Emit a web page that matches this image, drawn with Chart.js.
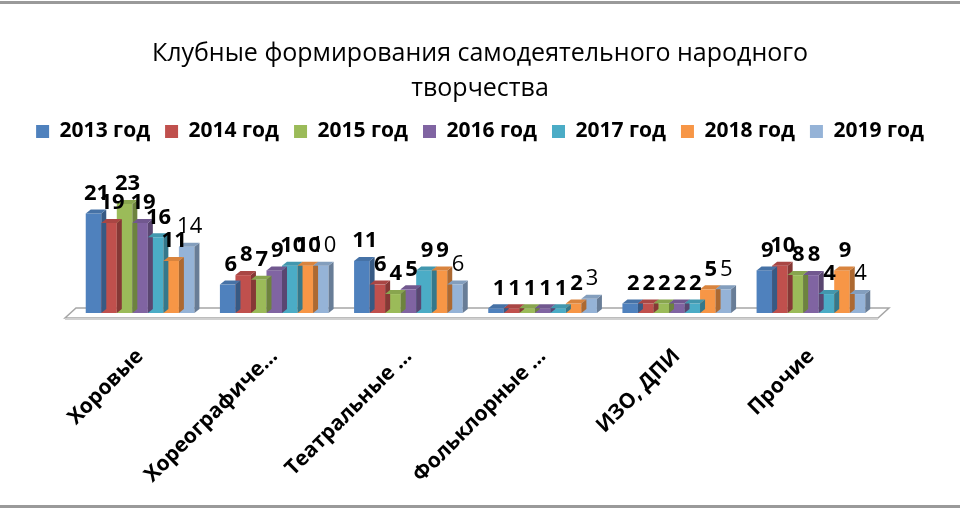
<!DOCTYPE html>
<html>
<head>
<meta charset="utf-8">
<script src="https://cdn.jsdelivr.net/npm/chart.js@4/dist/chart.umd.min.js"></script>
<style>
  html, body { margin:0; padding:0; background:#fff; }
  #wrap { position:relative; width:960px; height:510px; }
</style>
</head>
<body>
<div id="wrap"><canvas id="chart" width="960" height="510"></canvas></div>
<script>
// categories (Excel truncated the long ones)
var categories = ['Хоровые', 'Хореографиче...', 'Театральные ...', 'Фольклорные ...', 'ИЗО, ДПИ', 'Прочие'];
var years = ['2013 год', '2014 год', '2015 год', '2016 год', '2017 год', '2018 год', '2019 год'];
var colors = ['#4F81BD', '#C0504D', '#9BBB59', '#8064A2', '#4BACC6', '#F79646', '#95B3D7'];

var v2013 = [21, 6, 11, 1, 2, 9];
var v2014 = [19, 8, 6, 1, 2, 10];
var v2015 = [23, 7, 4, 1, 2, 8];
var v2016 = [19, 9, 5, 1, 2, 8];
var v2017 = [16, 10, 9, 1, 2, 4];
var v2018 = [11, 10, 9, 2, 5, 9];
var v2019 = [14, 10, 6, 3, 5, 4];
var series = [v2013, v2014, v2015, v2016, v2017, v2018, v2019];

var yMax = 34;

function shade(hex, f) {
  var n = parseInt(hex.slice(1), 16);
  var r = (n >> 16) & 255, g = (n >> 8) & 255, b = n & 255;
  function c(x){ return Math.max(0, Math.min(255, Math.round(f < 0 ? x*(1+f) : x + (255-x)*f))); }
  return 'rgb(' + c(r) + ',' + c(g) + ',' + c(b) + ')';
}

// frame lines + 3D floor
var floorPlugin = {
  id:'floor',
  beforeDraw:function(chart){
    var ctx = chart.ctx;
    ctx.save();
    ctx.fillStyle = '#fff';
    ctx.fillRect(0, 0, chart.width, chart.height);
    ctx.fillStyle = '#9a9a9a';
    ctx.fillRect(0, 1, chart.width, 3);
    ctx.fillRect(0, chart.height - 5, chart.width, 3);
    ctx.restore();
  },
  beforeDatasetsDraw:function(chart){
    var a = chart.chartArea, ctx = chart.ctx;
    var y0 = a.bottom;
    ctx.save();
    ctx.fillStyle = '#ffffff';
    ctx.strokeStyle = '#a6a6a6';
    ctx.lineWidth = 1.5;
    ctx.beginPath();
    ctx.moveTo(a.left - 8, y0 + 5);
    ctx.lineTo(a.right, y0 + 5);
    ctx.lineTo(a.right + 11, y0 - 5);
    ctx.lineTo(a.left + 3, y0 - 5);
    ctx.closePath();
    ctx.fill();
    ctx.stroke();
    ctx.fillStyle = '#d0d0d0';
    ctx.fillRect(a.left - 8, y0 + 5, a.right - a.left + 8, 2);
    ctx.restore();
  }
};

// side and top faces of the bars, then value labels
var depthPlugin = {
  id:'depth',
  afterDatasetsDraw:function(chart){
    var ctx = chart.ctx, d = 5, h = 4;
    ctx.save();
    chart.data.datasets.forEach(function(ds, i){
      var meta = chart.getDatasetMeta(i);
      meta.data.forEach(function(bar){
        var w = bar.width, l = bar.x - w/2, r = bar.x + w/2;
        ctx.fillStyle = shade(colors[i], -0.3);
        ctx.beginPath();
        ctx.moveTo(r, bar.y); ctx.lineTo(r + d, bar.y - h);
        ctx.lineTo(r + d, bar.base - h); ctx.lineTo(r, bar.base);
        ctx.closePath(); ctx.fill();
        ctx.fillStyle = shade(colors[i], -0.12);
        ctx.beginPath();
        ctx.moveTo(l, bar.y); ctx.lineTo(l + d, bar.y - h);
        ctx.lineTo(r + d, bar.y - h); ctx.lineTo(r, bar.y);
        ctx.closePath(); ctx.fill();
      });
    });
    ctx.fillStyle = '#000';
    ctx.textAlign = 'center';
    ctx.textBaseline = 'bottom';
    chart.data.datasets.forEach(function(ds, i){
      var meta = chart.getDatasetMeta(i);
      ctx.font = (i === 6 ? 'normal ' : 'bold ') + '22px "Open Sans"';
      meta.data.forEach(function(bar, j){
        ctx.fillText(String(ds.data[j]), bar.x + 3, bar.y - 9);
      });
    });
    ctx.restore();
  }
};

var datasets = years.map(function(y, i){
  return {
    label:y,
    data:series[i],
    backgroundColor:colors[i],
    borderWidth:0,
    barPercentage:1,
    categoryPercentage:0.81
  };
});

// empty side axes only reserve room so the plot spans like the original
function sideAxis(pos, w) {
  return {
    position:pos, display:true, min:0, max:yMax,
    grid:{ display:false }, border:{ display:false },
    ticks:{ display:false },
    afterFit:function(s){ s.width = w; }
  };
}

new Chart(document.getElementById('chart'), {
  type:'bar',
  data:{ labels:categories, datasets:datasets },
  options:{
    responsive:false,
    animation:false,
    layout:{ padding:{ left:10, right:10, top:0, bottom:0 } },
    plugins:{
      title:{
        display:true,
        text:['Клубные формирования самодеятельного народного', 'творчества'],
        color:'#000',
        font:{ family:'Open Sans', size:25, weight:'normal', lineHeight:1.4 },
        padding:{ top:36, bottom:0 }
      },
      legend:{
        position:'top',
        labels:{
          color:'#000',
          boxWidth:13, boxHeight:13,
          padding:15,
          font:{ family:'Open Sans', size:21, weight:'bold' }
        }
      },
      tooltip:{ enabled:false }
    },
    scales:{
      x:{
        grid:{ display:false },
        border:{ display:false },
        afterFit:function(s){ s.height = 197; },
        ticks:{
          color:'#000',
          autoSkip:false,
          maxRotation:45, minRotation:45,
          padding:23,
          font:{ family:'Open Sans', size:21, weight:'bold' }
        }
      },
      y:sideAxis('left', 63),
      y2:sideAxis('right', 72)
    }
  },
  plugins:[floorPlugin, depthPlugin]
});
</script>
</body>
</html>
